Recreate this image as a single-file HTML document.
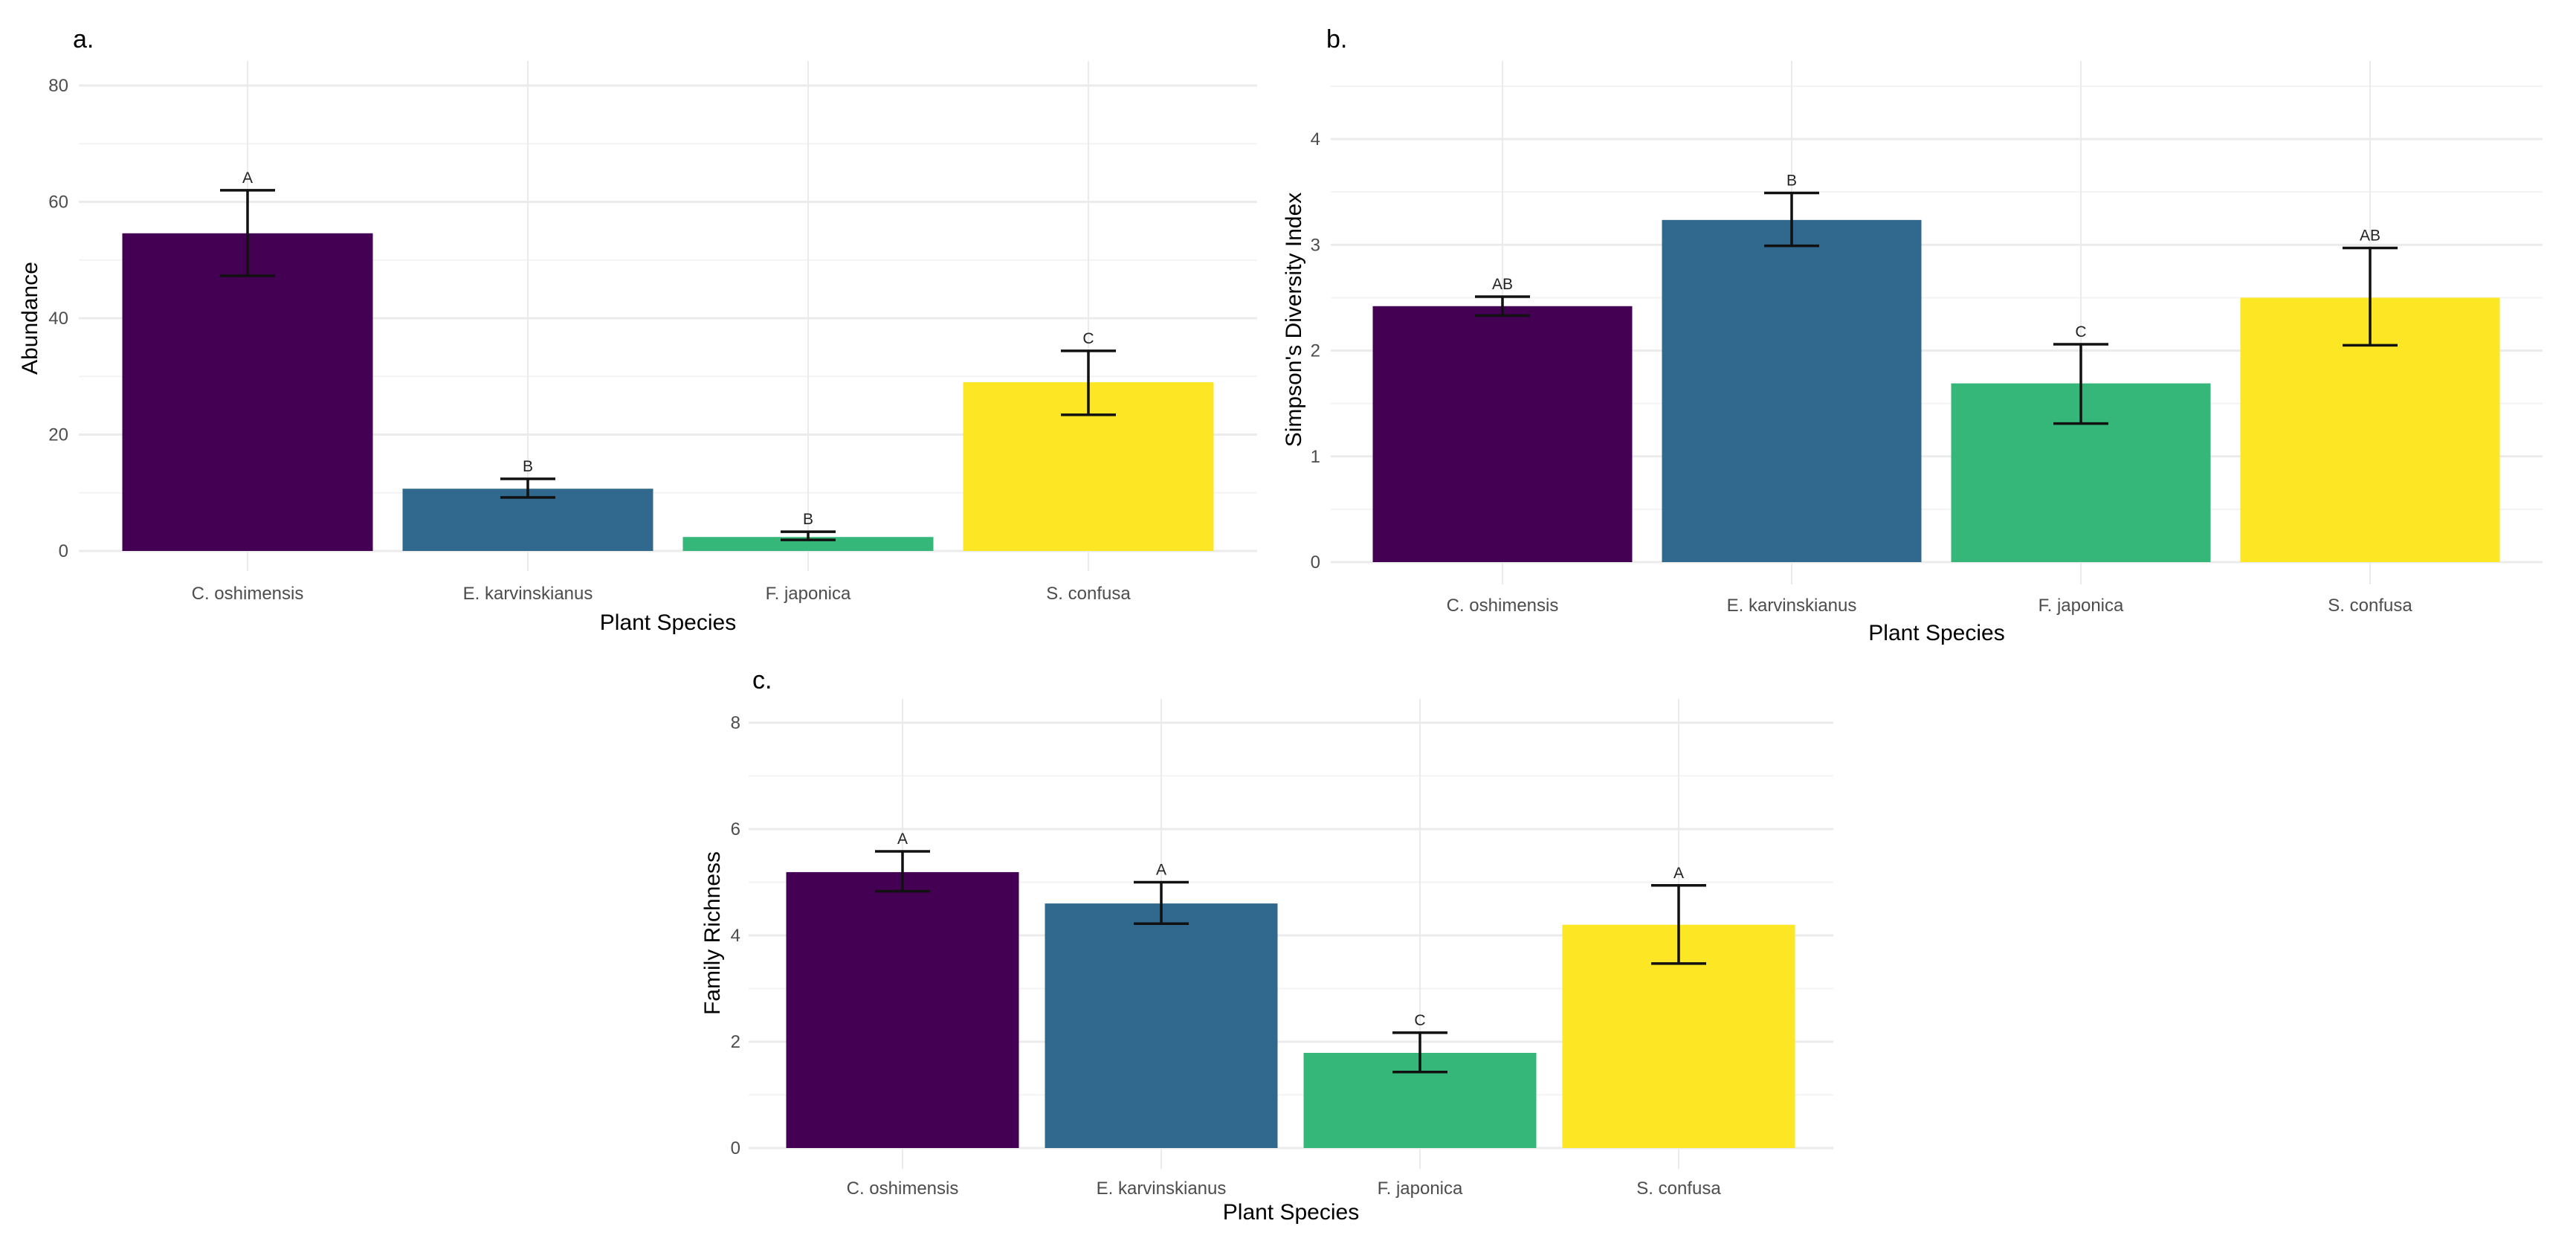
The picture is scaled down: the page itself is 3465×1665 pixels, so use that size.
<!DOCTYPE html>
<html><head><meta charset="utf-8"><style>
html,body{margin:0;padding:0;background:#fff;}
svg{display:block;font-family:"Liberation Sans",Arial,sans-serif;}
</style></head><body>
<svg id="fig" width="3465" height="1665" viewBox="0 0 3465 1665" xmlns="http://www.w3.org/2000/svg"></svg>
<script>
const categories = ["C. oshimensis","E. karvinskianus","F. japonica","S. confusa"];
const barColors = ["#440154","#31688e","#35b779","#fde725"];

const abundanceMean = [54.6, 10.7, 2.4, 29.0];
const abundanceUpper = [62.0, 12.4, 3.3, 34.4];
const abundanceLower = [47.3, 9.2, 1.9, 23.4];
const abundanceLetters = ["A","B","B","C"];
const abundanceTicks = [0,20,40,60,80];

const simpsonMean = [2.42, 3.235, 1.69, 2.50];
const simpsonUpper = [2.51, 3.49, 2.06, 2.97];
const simpsonLower = [2.33, 2.99, 1.31, 2.05];
const simpsonLetters = ["AB","B","C","AB"];
const simpsonTicks = [0,1,2,3,4];

const richnessMean = [5.19, 4.6, 1.79, 4.2];
const richnessUpper = [5.58, 5.0, 2.17, 4.94];
const richnessLower = [4.83, 4.22, 1.43, 3.47];
const richnessLetters = ["A","A","C","A"];
const richnessTicks = [0,2,4,6,8];

const NS="http://www.w3.org/2000/svg";
const svg=document.getElementById('fig');
function mk(tag,attrs,parent){const e=document.createElementNS(NS,tag);for(const k in attrs)e.setAttribute(k,attrs[k]);(parent||svg).appendChild(e);return e;}

function panel(p){
  const g=mk('g',{});
  
  
  const yScale=v=>p.y0-(v-p.ymin)*(p.y0-p.yTop)/(p.ymaxTick-p.ymin);
  const step=p.ticks[1]-p.ticks[0];
  for(let i=0;i<p.ticks.length;i++){
    const mv=p.ticks[i]+step/2;
    if(yScale(mv)<p.plotTop) continue;
    const l=mk('line',{x1:p.left,x2:p.right,y1:yScale(mv),y2:yScale(mv),stroke:'#f3f3f3','stroke-width':2},g);
    
    
  }
  const xs=i=>p.x0+i*p.dx;
  categories.forEach((c,i)=>{
    const l=mk('line',{x1:xs(i),x2:xs(i),y1:p.plotTop,y2:p.plotBottom,stroke:'#ebebeb','stroke-width':2},g);
    
    
  });
  p.ticks.forEach(t=>{
    const y=yScale(t);
    const l=mk('line',{x1:p.left,x2:p.right,y1:y,y2:y,stroke:'#ebebeb','stroke-width':3},g);
    
    
    const tx=mk('text',{x:p.tickX,y:y+8,'text-anchor':'end','font-size':24,fill:'#4d4d4d'},g);
    tx.textContent=t;
    
    
  });
  categories.forEach((c,i)=>{
    const x=xs(i);
    const b=mk('rect',{x:x-p.bw/2,y:yScale(p.mean[i]),width:p.bw,height:yScale(0)-yScale(p.mean[i]),fill:barColors[i]},g);
    
    
    const eg=mk('g',{stroke:'#111','stroke-width':3.5},g);
    
    
    mk('line',{x1:x,x2:x,y1:yScale(p.upper[i]),y2:yScale(p.lower[i])},eg);
    mk('line',{x1:x-37,x2:x+37,y1:yScale(p.upper[i]),y2:yScale(p.upper[i])},eg);
    mk('line',{x1:x-37,x2:x+37,y1:yScale(p.lower[i]),y2:yScale(p.lower[i])},eg);
    const lt=mk('text',{x:x,y:yScale(p.upper[i])-10,'text-anchor':'middle','font-size':21,fill:'#222'},g);
    lt.textContent=p.letters[i];
    
    
    const cl=mk('text',{x:x,y:p.catY,'text-anchor':'middle','font-size':24,fill:'#4d4d4d'},g);
    cl.textContent=c;
    
    
  });
  const xt=mk('text',{x:(p.left+p.right)/2,y:p.titleY,'text-anchor':'middle','font-size':30,fill:'#000'},g);
  xt.textContent='Plant Species';
  
  
  const yt=mk('text',{x:0,y:0,'text-anchor':'middle','font-size':30,fill:'#000',transform:`translate(${p.ytX},${p.ytY}) rotate(-90)`},g);
  yt.textContent=p.ytitle;
  
  
  const pl=mk('text',{x:p.labX,y:p.labY,'font-size':34,fill:'#000'},g);
  pl.textContent=p.label;
  
  
}

panel({name:'abundance',mean:abundanceMean,upper:abundanceUpper,lower:abundanceLower,letters:abundanceLetters,ticks:abundanceTicks,
  ymin:0,ymaxTick:80,y0:741,yTop:115,plotTop:82,plotBottom:768,left:106,right:1691,x0:333,dx:377,bw:337,
  tickX:92,catY:806,titleY:847,ytitle:'Abundance',ytX:50,ytY:428,label:'a.',labX:98,labY:64});
panel({name:'simpson',mean:simpsonMean,upper:simpsonUpper,lower:simpsonLower,letters:simpsonLetters,ticks:simpsonTicks,
  ymin:0,ymaxTick:4,y0:756,yTop:187,plotTop:82,plotBottom:786,left:1790,right:3420,x0:2021,dx:389,bw:349,
  tickX:1776,catY:822,titleY:861,ytitle:"Simpson's Diversity Index",ytX:1750,ytY:430,label:'b.',labX:1784,labY:64});
panel({name:'richness',mean:richnessMean,upper:richnessUpper,lower:richnessLower,letters:richnessLetters,ticks:richnessTicks,
  ymin:0,ymaxTick:8,y0:1544,yTop:972,plotTop:940,plotBottom:1572,left:1007,right:2466,x0:1214,dx:348,bw:313,
  tickX:996,catY:1606,titleY:1640,ytitle:'Family Richness',ytX:968,ytY:1255,label:'c.',labX:1012,labY:926});
</script>
</body></html>
